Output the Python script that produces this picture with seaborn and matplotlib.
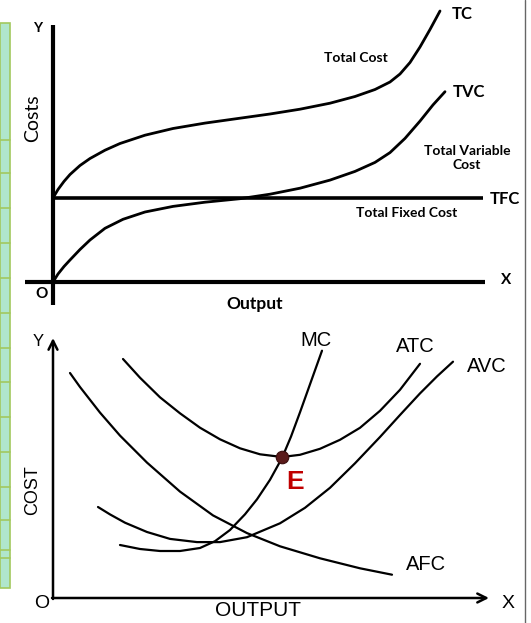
import seaborn as sns
import pandas as pd
import matplotlib.pyplot as plt
from matplotlib.patches import Rectangle
from matplotlib.lines import Line2D

# 상단 그래프: 총비용 곡선 (산출량, 비용)
tc_x = [0, 0.5, 1.1, 1.7, 2.7, 3.7, 5.2, 6.7, 9.2, 12.0, 15.2, 18.7, 21.7, 24.7, 27.7, 30.2, 32.2, 33.7, 34.7, 35.7, 36.7, 37.7, 38.7]
tc_y = [8.4, 9.25, 10.06, 10.75, 11.65, 12.35, 13.18, 13.85, 14.68, 15.35, 15.89, 16.38, 16.8, 17.28, 17.88, 18.55, 19.25, 20.0, 20.8, 21.95, 23.5, 25.25, 27.1]

tvc_x = [0, 0.5, 1.1, 1.7, 2.7, 3.7, 5.2, 7.0, 9.2, 12.0, 15.2, 18.7, 21.7, 24.7, 27.7, 30.2, 32.2, 33.7, 35.2, 36.7, 38.0, 39.2]
tvc_y = [0, 0.8, 1.55, 2.2, 3.25, 4.2, 5.37, 6.27, 7.0, 7.56, 7.98, 8.33, 8.78, 9.38, 10.19, 11.06, 11.96, 12.94, 14.36, 16.09, 17.71, 19.03]

tfc_x = [0, 43.0]
tfc_y = [8.4, 8.4]

# 하단 그래프: 평균/한계 비용 곡선
atc_x = [7.0, 8.7, 10.7, 12.7, 14.7, 16.7, 18.7, 20.7, 22.9, 24.7, 26.7, 28.7, 30.7, 32.7, 34.7, 36.7]
atc_y = [23.9, 22.03, 20.07, 18.47, 17.03, 15.87, 14.97, 14.37, 14.1, 14.32, 14.92, 15.82, 17.02, 18.72, 20.82, 23.42]

mc_x = [6.7, 8.7, 10.7, 12.7, 14.7, 16.2, 17.7, 19.2, 20.4, 21.7, 22.9, 23.8, 24.7, 25.8, 26.9]
mc_y = [5.3, 4.9, 4.7, 4.7, 5.0, 5.68, 6.8, 8.37, 9.87, 11.82, 14.0, 16.14, 18.57, 21.65, 24.73]

avc_x = [4.5, 5.7, 7.2, 9.4, 11.7, 14.4, 16.7, 19.4, 22.7, 25.2, 27.7, 30.2, 32.7, 34.7, 36.7, 38.4, 40.0]
avc_y = [9.1, 8.36, 7.53, 6.6, 5.91, 5.59, 5.59, 6.08, 7.47, 9.02, 11.02, 13.47, 16.1, 18.3, 20.46, 22.16, 23.63]

afc_x = [1.7, 2.7, 4.7, 6.7, 9.4, 12.7, 16.0, 19.4, 22.7, 26.7, 30.7, 33.9]
afc_y = [22.5, 21.1, 18.54, 16.24, 13.54, 10.64, 8.26, 6.49, 5.17, 3.97, 2.97, 2.33]

e_point = (22.9, 14.1)

sns.set_style('white')
plt.rcParams['font.family'] = ['Lato', 'DejaVu Sans']
plt.rcParams['text.color'] = 'black'

W, H = 531, 623
fig = plt.figure(figsize=(W / 100, H / 100), dpi=100)
fig.patch.set_facecolor('white')

# 왼쪽 초록 띠 장식
strip_lines = [140, 173, 208, 243, 278, 313, 348, 382, 417, 452, 487, 520, 550, 558]
fig.add_artist(Rectangle((0, 1 - 588 / H), 10 / W, (588 - 23) / H, transform=fig.transFigure,
                         facecolor='#b0e6cc', edgecolor='#a2c85e', lw=1.2))
for yy in strip_lines:
    fig.add_artist(Line2D([0, 10 / W], [1 - yy / H] * 2, transform=fig.transFigure,
                          color='#a2c85e', lw=1.2))
fig.add_artist(Line2D([525 / W] * 2, [0, 1], transform=fig.transFigure, color='#666666', lw=1))

# ---------- 상단 그래프 ----------
ax1 = fig.add_axes([0, 311 / H, 1, 312 / H])
ax1.set_xlim(-5.3, 47.8)
ax1.set_ylim(-3.0, 28.2)
ax1.axis('off')

ax1.plot([0, 0], [-2.3, 25.7], color='black', lw=3, solid_capstyle='butt')
ax1.plot([-2.8, 43.2], [0, 0], color='black', lw=3, solid_capstyle='butt')

top_df = pd.concat([
    pd.DataFrame({'output': tc_x, 'cost': tc_y, 'curve': 'TC'}),
    pd.DataFrame({'output': tvc_x, 'cost': tvc_y, 'curve': 'TVC'}),
])
sns.lineplot(data=top_df, x='output', y='cost', units='curve', estimator=None, sort=False,
             color='black', lw=2, ax=ax1)
ax1.plot(tfc_x, tfc_y, color='black', lw=2.6, solid_capstyle='butt')

bold = dict(fontweight='bold', color='black')
ax1.text(-1.5, 25.4, 'Y', fontsize=10, ha='center', va='center', **bold)
ax1.text(-1.1, -1.2, 'O', fontsize=11, ha='center', va='center', **bold)
ax1.text(45.3, 0.2, 'X', fontsize=11, ha='center', va='center', **bold)
ax1.text(-2.0, 16.4, 'Costs', fontsize=14, rotation=90, ha='center', va='center', color='black')
ax1.text(20.2, -2.2, 'Output', fontsize=12.5, ha='center', va='center', **bold)
ax1.text(39.9, 26.8, 'TC', fontsize=12, ha='left', va='center', **bold)
ax1.text(30.3, 22.4, 'Total Cost', fontsize=10, ha='center', va='center', **bold)
ax1.text(40.0, 19.0, 'TVC', fontsize=12, ha='left', va='center', **bold)
ax1.text(41.4, 12.4, 'Total Variable\nCost', fontsize=10, ha='center', va='center',
         linespacing=1.25, **bold)
ax1.text(43.7, 8.3, 'TFC', fontsize=12, ha='left', va='center', **bold)
ax1.text(35.4, 6.9, 'Total Fixed Cost', fontsize=10, ha='center', va='center', **bold)

# ---------- 하단 그래프 ----------
ax2 = fig.add_axes([0, 0, 1, 311 / H])
ax2.set_xlim(-5.3, 47.8)
ax2.set_ylim(-2.5, 28.6)
ax2.axis('off')

arrow = dict(arrowstyle='->', lw=1.8, color='black', mutation_scale=16, shrinkA=0, shrinkB=0)
ax2.annotate('', xy=(0, 26.0), xytext=(0, -0.1), arrowprops=arrow)
ax2.annotate('', xy=(43.6, 0), xytext=(-0.1, 0), arrowprops=arrow)

bottom_df = pd.concat([
    pd.DataFrame({'output': atc_x, 'cost': atc_y, 'curve': 'ATC'}),
    pd.DataFrame({'output': mc_x, 'cost': mc_y, 'curve': 'MC'}),
    pd.DataFrame({'output': avc_x, 'cost': avc_y, 'curve': 'AVC'}),
    pd.DataFrame({'output': afc_x, 'cost': afc_y, 'curve': 'AFC'}),
])
sns.lineplot(data=bottom_df, x='output', y='cost', units='curve', estimator=None, sort=False,
             color='black', lw=1.6, ax=ax2)

ax2.plot(*e_point, 'o', ms=9, color='#5a1a1a', mec='#3a0d0d', mew=0.8, zorder=5)
ax2.text(24.25, 11.6, 'E', fontsize=19, fontweight='bold', color='#c00000',
         ha='center', va='center', family=['Liberation Sans', 'DejaVu Sans'])

sans = dict(family=['Liberation Sans', 'DejaVu Sans'], color='black')
ax2.text(-1.5, 25.6, 'Y', fontsize=12, ha='center', va='center', **sans)
ax2.text(-1.1, -0.5, 'O', fontsize=14, ha='center', va='center', **sans)
ax2.text(45.5, -0.5, 'X', fontsize=14, ha='center', va='center', **sans)
ax2.text(-2.0, 10.8, 'COST', fontsize=13, rotation=90, ha='center', va='center', **sans)
ax2.text(20.5, -1.3, 'OUTPUT', fontsize=15, ha='center', va='center', **sans)
ax2.text(26.3, 25.8, 'MC', fontsize=14.5, ha='center', va='center', **sans)
ax2.text(36.2, 25.1, 'ATC', fontsize=14.5, ha='center', va='center', **sans)
ax2.text(43.4, 23.2, 'AVC', fontsize=14.5, ha='center', va='center', **sans)
ax2.text(37.3, 3.4, 'AFC', fontsize=14.5, ha='center', va='center', **sans)

fig.savefig('out.png', dpi=100)
